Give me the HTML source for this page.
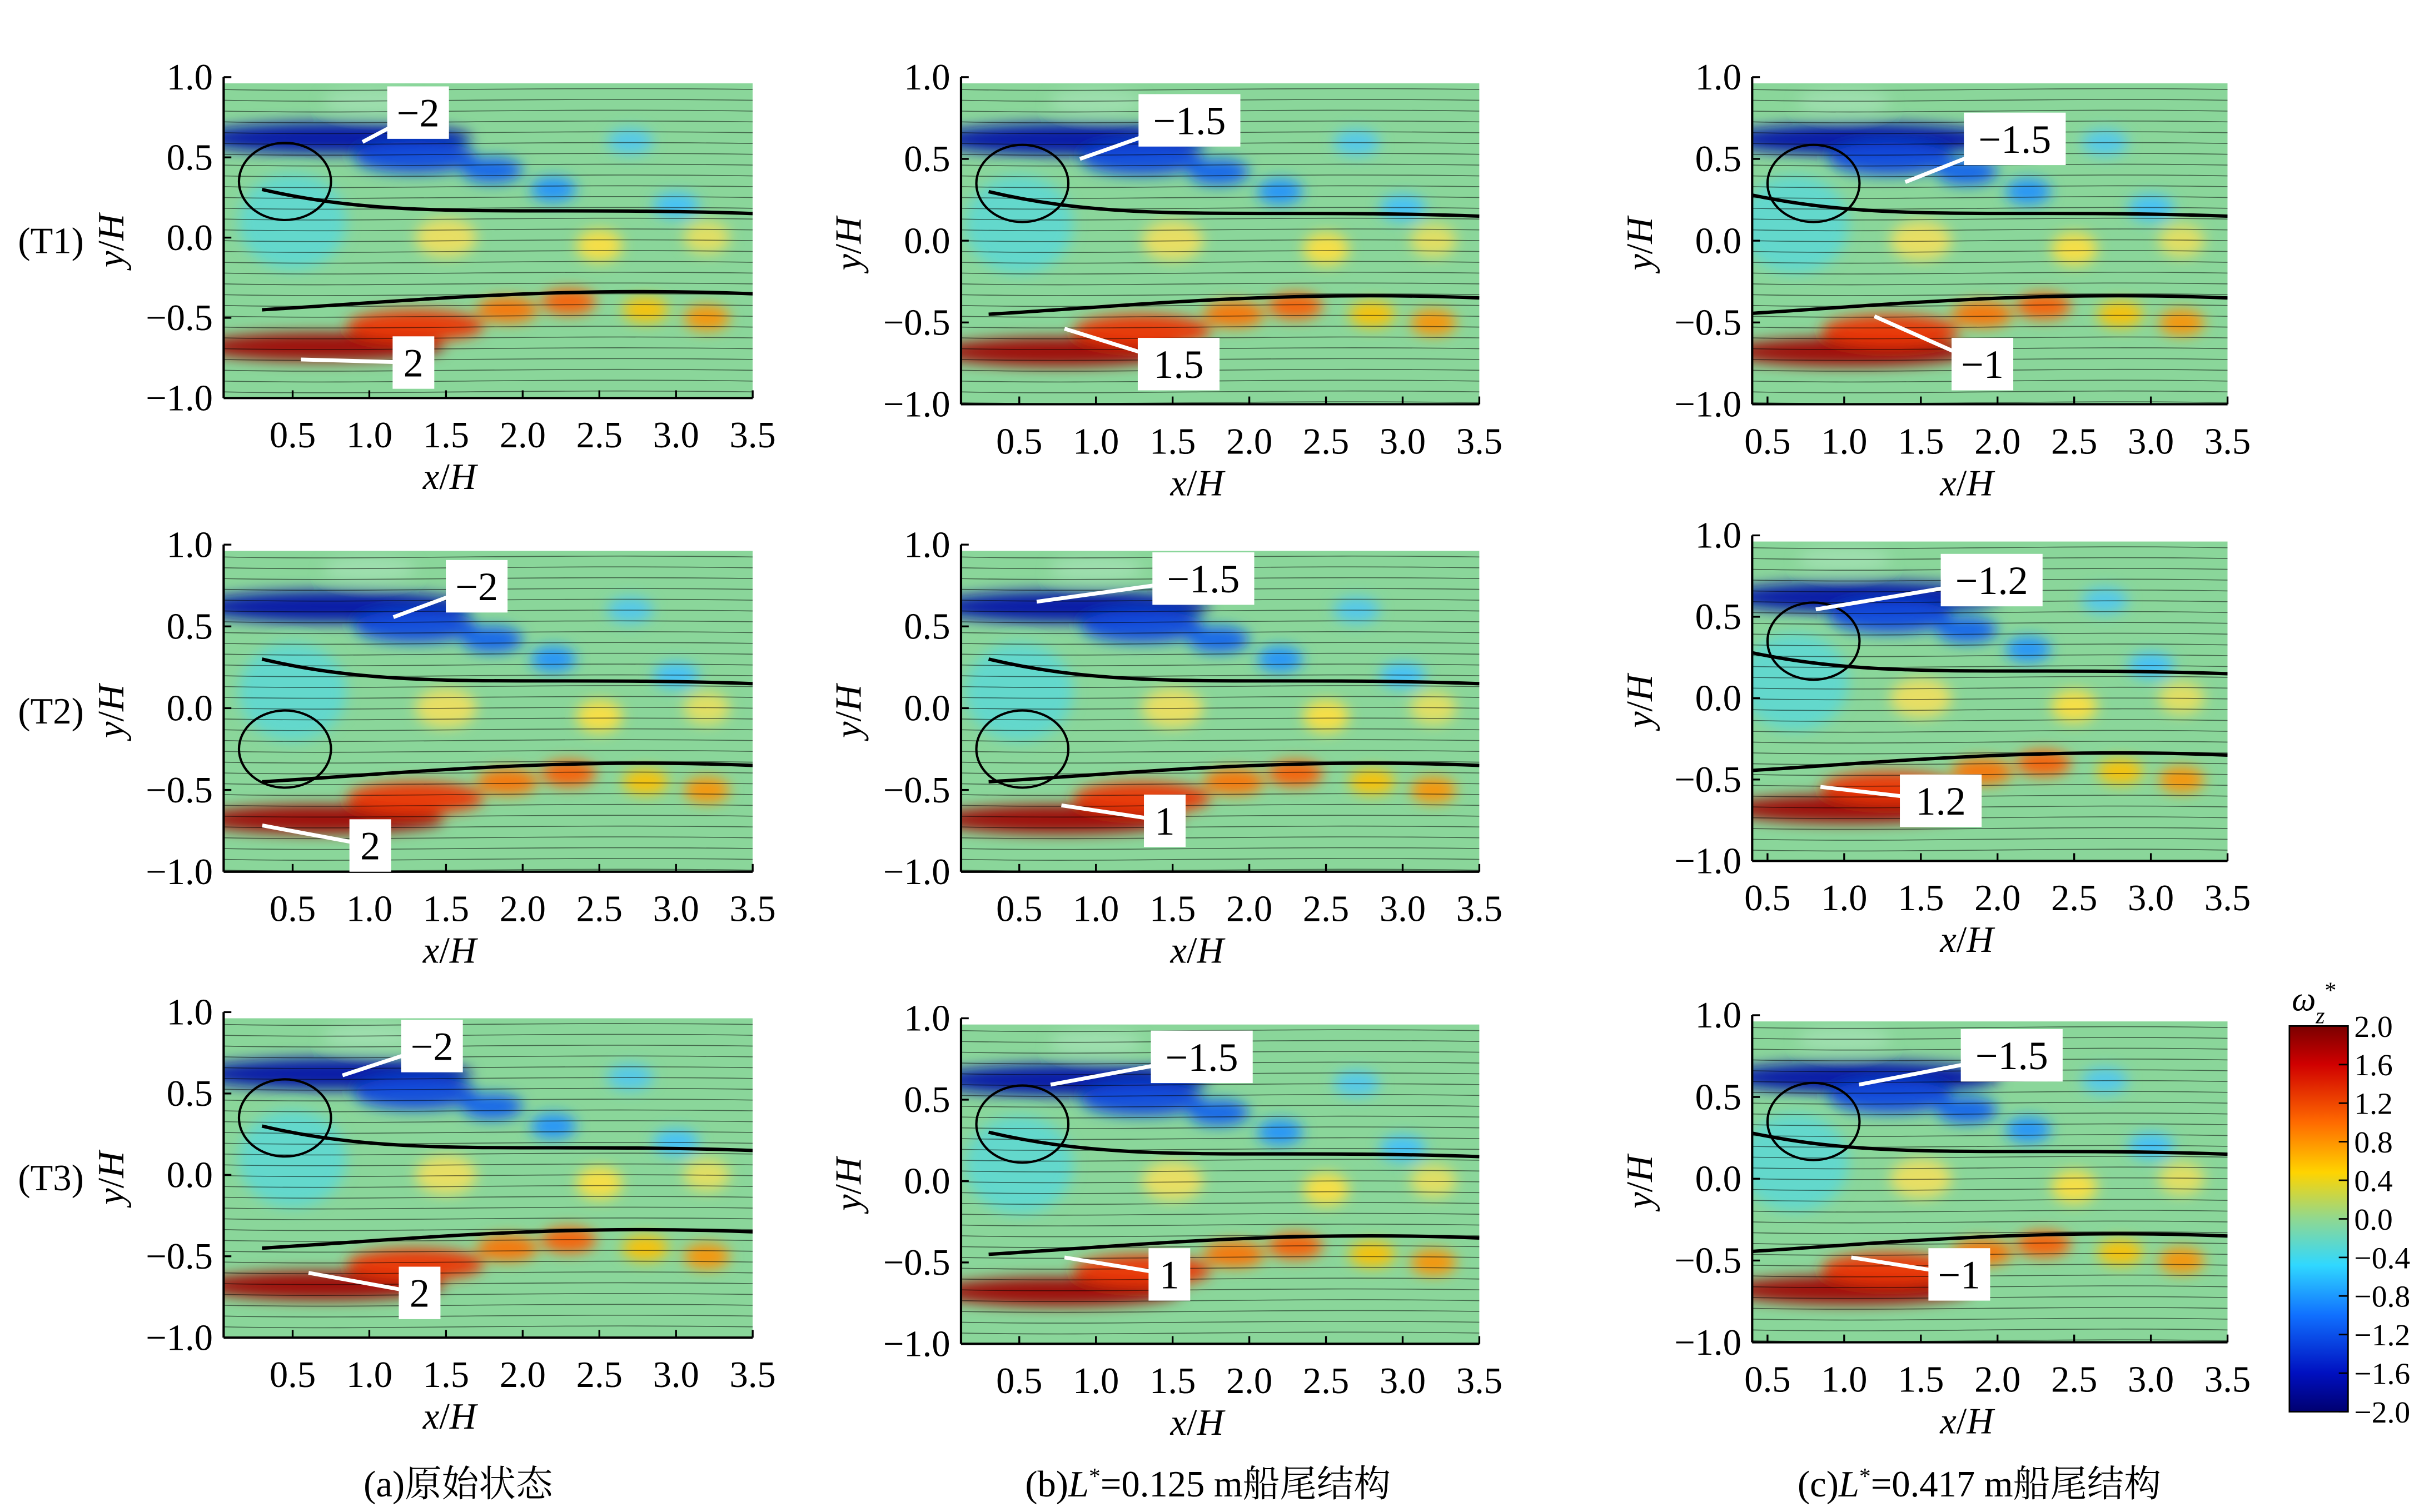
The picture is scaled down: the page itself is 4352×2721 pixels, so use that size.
<!DOCTYPE html>
<html><head><meta charset="utf-8"><style>
html,body{margin:0;padding:0;background:#fff;}
svg{display:block;}
text{font-family:"Liberation Serif","Noto Serif CJK SC",serif;fill:#000;}
</style></head><body>
<svg id="fig" xmlns="http://www.w3.org/2000/svg" width="4352" height="2721" viewBox="0 0 1568 980" preserveAspectRatio="none">
<defs>
<filter id="bl" x="-50%" y="-50%" width="200%" height="200%"><feGaussianBlur stdDeviation="4.5"/></filter>
<linearGradient id="cbar" x1="0" y1="0" x2="0" y2="1">
<stop offset="0" stop-color="#7a0000"/><stop offset="0.1" stop-color="#d00000"/><stop offset="0.25" stop-color="#ff6a00"/><stop offset="0.38" stop-color="#ffd400"/><stop offset="0.5" stop-color="#90d890"/><stop offset="0.62" stop-color="#30d8ff"/><stop offset="0.75" stop-color="#1070ff"/><stop offset="0.9" stop-color="#0010c0"/><stop offset="1" stop-color="#000070"/>
</linearGradient>
</defs>
</svg>
<script>
const NS="http://www.w3.org/2000/svg";
const svg=document.getElementById('fig');
const xTicks=[0.5,1.0,1.5,2.0,2.5,3.0,3.5];
const yTicks=[1.0,0.5,0.0,-0.5,-1.0];
const cbarLabels=["2.0","1.6","1.2","0.8","0.4","0.0","−0.4","−0.8","−1.2","−1.6","−2.0"];
const rowLabels=["(T1)","(T2)","(T3)"];
const captions=["(a)原始状态","(b)L*=0.125 m船尾结构","(c)L*=0.417 m船尾结构"];
const colX0=[140,611,1096];
const colStart=[0.05,0.12,0.4];
const colRows=[[[50,258],[353,565],[656,867]],[[50,262],[353,565],[660,871]],[[50,262],[347,558],[658,870]]];
const callouts=[
 [[["−2",271,73,235,92],["2",268,235,195,233]],[["−2",309,380,255,400],["2",240,548,170,535]],[["−2",280,678,222,697],["2",272,838,200,825]]],
 [[["−1.5",771,78,700,103],["1.5",764,236,690,213]],[["−1.5",780,375,672,390],["1",755,532,688,522]],[["−1.5",779,685,681,703],["1",758,826,690,815]]],
 [[["−1.5",1306,90,1235,118],["−1",1285,236,1215,205]],[["−1.2",1291,376,1177,395],["1.2",1258,519,1180,510]],[["−1.5",1304,684,1205,703],["−1",1270,826,1200,815]]]
];
// blob data: [x, y, rx(data), ry(data), color]
const blobs=[[0.5,0.1,0.35,0.3,"#60d8d0"],[0.6,0.62,0.9,0.1,"#0010a8"],[1.3,0.5,0.4,0.1,"#1048e0"],[1.8,0.42,0.2,0.08,"#1060f0"],[0.6,-0.68,0.8,0.09,"#a00000"],[1.3,-0.55,0.45,0.1,"#f03000"],[1.9,-0.45,0.2,0.08,"#ff7000"],[2.3,-0.4,0.18,0.08,"#ff5a00"],[2.8,-0.45,0.15,0.08,"#ffc000"],[3.2,-0.5,0.15,0.08,"#ff9000"],[2.2,0.3,0.15,0.08,"#2090ff"],[3.0,0.2,0.15,0.08,"#40c0ff"],[2.5,-0.05,0.15,0.1,"#ffe040"],[1.5,0.0,0.2,0.12,"#f0e060"],[3.2,0.0,0.15,0.1,"#e8e060"],[2.7,0.6,0.15,0.08,"#50c8f0"],[1.0,0.85,0.3,0.08,"#a0e0b0"]];
function el(t,a,p){const e=document.createElementNS(NS,t);for(const k in a)e.setAttribute(k,a[k]);(p||svg).appendChild(e);return e;}
function tx(s,x,y,sz,anc,p){const e=el('text',{x:x,y:y,'font-size':sz,'text-anchor':anc||'middle'},p);e.textContent=s;return e;}
for(let c=0;c<3;c++){for(let r=0;r<3;r++){
 const [yT,yB]=colRows[c][r];const x0=colX0[c];const ux=99.4;
 const px=v=>x0+v*ux, py=v=>yT+(1-v)*(yB-yT)/2;
 const g=el('g',{});
 
 
 const L=px(colStart[c]),R=px(3.5),T=py(1.0)+4,B=py(-1.0);
 const cid='cl'+c+r;const cp=el('clipPath',{id:cid},g);el('rect',{x:L,y:T,width:R-L,height:B-T},cp);
 const f=el('g',{'clip-path':'url(#'+cid+')'},g);
 el('rect',{x:L,y:T,width:R-L,height:B-T,fill:'#8ad69a'},f);
 const bg=el('g',{filter:'url(#bl)'},f);
 blobs.forEach(b=>{const bx=Math.max(b[0],colStart[c]+b[2]*0.8);
  el('ellipse',{cx:px(bx),cy:py(b[1]),rx:b[2]*ux,ry:b[3]*(yB-yT)/2,fill:b[4],opacity:0.92},bg);});
 const sg=el('g',{stroke:'#000','stroke-width':0.6,fill:'none',opacity:0.5},f);
 for(let yy=T+4;yy<B;yy+=7){el('path',{d:`M${L} ${yy} C ${L+100} ${yy+2}, ${L+200} ${yy-2}, ${R} ${yy}`},sg);}
 el('path',{d:`M${px(0.3)} ${py(0.3)} C ${px(1.2)} ${py(0.1)}, ${px(2)} ${py(0.2)}, ${px(3.5)} ${py(0.15)}`,stroke:'#000','stroke-width':2.2,fill:'none'},f);
 el('path',{d:`M${px(0.3)} ${py(-0.45)} C ${px(1.2)} ${py(-0.4)}, ${px(2.2)} ${py(-0.3)}, ${px(3.5)} ${py(-0.35)}`,stroke:'#000','stroke-width':2.2,fill:'none'},f);
 el('ellipse',{cx:px(colStart[c]+0.4),cy:py(r==1&&c<2?-0.25:0.35),rx:0.3*ux,ry:25,stroke:'#000','stroke-width':1.5,fill:'none'},f);
 el('line',{x1:L,y1:T-4,x2:L,y2:B,stroke:'#000','stroke-width':1.5},g);
 el('line',{x1:L,y1:B,x2:R,y2:B,stroke:'#000','stroke-width':1.5},g);
 yTicks.forEach(v=>{el('line',{x1:L,y1:py(v),x2:L+5,y2:py(v),stroke:'#000','stroke-width':1.2},g);
  tx(v.toFixed(1).replace('-','−'),L-7,py(v)+8,24,'end',g);});
 xTicks.forEach(v=>{el('line',{x1:px(v),y1:B,x2:px(v),y2:B-5,stroke:'#000','stroke-width':1.2},g);
  tx(v.toFixed(1),px(v),B+32,24,'middle',g);});
 const xl=tx('',(L+R)/2-15+(c==0?-10:0),B+59,24,'middle',g);xl.innerHTML='<tspan font-style="italic">x</tspan>/<tspan font-style="italic">H</tspan>';
 const yl=tx('',0,0,24,'middle',g);yl.setAttribute('transform',`translate(${L-65},${(T+B)/2}) rotate(-90)`);yl.innerHTML='<tspan font-style="italic">y</tspan>/<tspan font-style="italic">H</tspan>';
 if(c==0)tx(rowLabels[r],33,(T+B)/2+8,24,'middle',g);
 callouts[c][r].forEach(k=>{const [s,bx,by,lx,ly]=k;
  el('line',{x1:lx,y1:ly,x2:bx,y2:by,stroke:'#fff','stroke-width':2.5},g);
  const w=s.length*13+14;el('rect',{x:bx-w/2,y:by-17,width:w,height:34,fill:'#fff'},g);
  const t=tx(s,bx,by+9,26,'middle',g);});
}}
captions.forEach((s,i)=>{const t=tx('',[297,783,1283][i],970,24,'middle');
 
 t.innerHTML=i==0?s:s.replace('L*','<tspan font-style="italic">L</tspan><tspan baseline-shift="super" font-size="15">*</tspan>');});
const cb=el('g',{});


el('rect',{x:1484,y:665,width:38,height:250,fill:'url(#cbar)',stroke:'#000','stroke-width':1},cb);
cbarLabels.forEach((s,i)=>{const y=665+i*25;el('line',{x1:1516,y1:y,x2:1522,y2:y,stroke:'#000'},cb);tx(s,1526,y+7,20,'start',cb);});
const ct=tx('',1500,655,22,'middle',cb);ct.innerHTML='<tspan font-style="italic">ω</tspan><tspan font-style="italic" font-size="15" baseline-shift="sub">z</tspan><tspan font-size="15" baseline-shift="super">*</tspan>';
</script>
</body></html>
